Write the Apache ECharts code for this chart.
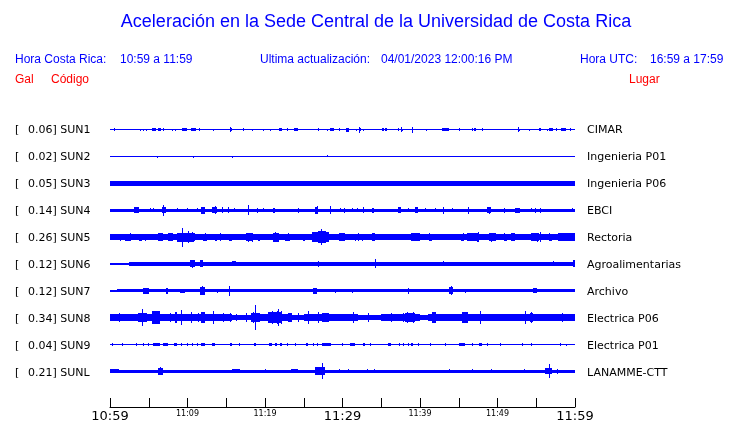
<!DOCTYPE html>
<html>
<head>
<meta charset="utf-8">
<script src="https://cdn.jsdelivr.net/npm/echarts@6/dist/echarts.min.js"></script>
<style>html,body{margin:0;padding:0;background:#fff}#c{width:740px;height:423px}</style>
</head>
<body>
<div id="c"></div>
<script>
// ---- Data ----
const stations = ['SUN1','SUN2','SUN3','SUN4','SUN5','SUN6','SUN7','SUN8','SUN9','SUNL'];
const peakGal = ['0.06','0.02','0.05','0.14','0.26','0.12','0.12','0.34','0.04','0.21'];
const places = ['CIMAR','Ingenieria P01','Ingenieria P06','EBCI','Rectoria','Agroalimentarias','Archivo','Electrica P06','Electrica P01','LANAMME-CTT'];
const tickValues = [0,10,20,30,40,50,60];
const tickLabels = ['10:59','11:09','11:19','11:29','11:39','11:49','11:59'];
const majorTicks = [0,30,60];

// Trace envelopes: [startMin, endMin, upGal, downGal(optional)]
const sun1Base = [[0,60,0]];
const sun1Bursts = [[0.55,0.7,0.03],[3.9,3.95,0.02],[4.3,4.35,0.02],[4.6,4.65,0.02],[5.4,5.9,0.03],[6.2,6.6,0.025],[6.9,7.0,0.03],[8.0,8.05,0.02],[8.4,8.45,0.02],[9.3,9.9,0.03],[10.5,11.1,0.03],[11.5,11.55,0.03],[13.3,13.35,0.015],[15.5,15.55,0.062],[15.6,15.8,0.03],[17.1,17.3,0.03],[18.3,18.35,0.015],[19.8,19.85,0.015],[20.7,20.75,0.015],[21.8,22.2,0.03],[22.9,22.95,0.03],[23.7,24.2,0.03],[26.9,27.0,0.03],[28.0,28.05,0.015],[28.4,28.9,0.03],[29.5,29.55,0.03],[30.5,30.8,0.035],[31.7,31.75,0.02],[32.1,32.15,0.065],[32.2,32.3,0.03],[32.7,32.75,0.02],[35.1,35.3,0.03],[35.5,35.7,0.03],[37.1,37.3,0.03],[37.5,37.55,0.062],[37.7,37.75,0.02],[39.0,39.05,0.065],[40.8,40.85,0.015],[42.8,43.7,0.03],[45.0,45.05,0.025],[46.7,46.75,0.03],[47.0,47.2,0.03],[48.0,48.05,0.03],[52.6,52.65,0.06],[52.8,52.85,0.02],[54.0,54.05,0.02],[55.4,55.6,0.03],[56.4,56.45,0.02],[56.7,57.1,0.03],[57.5,57.55,0.03],[58.2,58.8,0.03],[59.4,59.45,0.03]];
const sun2Base = [[0,60,0]];
const sun2Bursts = [[6.1,6.15,0.0,0.02],[10.75,10.8,0.0,0.02],[15.8,15.85,0.0,0.02],[28.0,28.1,0.035,0.01]];
const sun3Base = [[0,60,0.046]];
const sun3Bursts = [[11.0,11.05,0.04,0.066],[13.3,13.35,0.066,0.04],[26.5,26.55,0.066],[28.2,28.25,0.06,0.04]];
const sun4Base = [[0,2,0.022],[2,58.5,0.033],[58.5,60,0.024]];
const sun4Bursts = [[3.1,3.7,0.067],[5.2,5.25,0.048],[5.6,5.65,0.048],[6.7,7.2,0.07],[6.85,6.95,0.133,0.152],[8.6,8.65,0.048],[9.9,9.95,0.048],[11.2,11.25,0.04],[11.8,12.2,0.085],[13.2,13.8,0.07],[13.5,13.55,0.105],[14.5,14.55,0.067],[15.2,15.25,0.076],[16.0,16.05,0.048],[17.75,17.85,0.124],[19.0,19.05,0.057],[19.8,19.85,0.048],[21.0,21.3,0.057],[24.2,24.4,0.057],[26.5,26.9,0.085],[26.7,26.75,0.1],[28.35,28.45,0.105],[29.7,29.75,0.048],[30.2,30.25,0.057],[31.2,31.25,0.048],[31.9,31.95,0.048],[32.6,32.8,0.067],[33.8,34.0,0.057],[37.2,37.5,0.067],[38.5,38.55,0.048],[39.4,39.7,0.067],[40.6,40.65,0.04],[41.9,41.95,0.04],[43.0,43.05,0.085],[44.1,44.15,0.048],[46.2,46.25,0.085],[48.6,49.2,0.07],[48.9,48.95,0.085],[50.8,51.0,0.057],[52.3,52.9,0.057],[54.3,54.35,0.048],[54.9,54.95,0.057],[55.5,55.55,0.057],[59.6,59.65,0.04]];
const sun5Base = [[0,60,0.067]];
const sun5Bursts = [[1.9,2.6,0.086],[3.7,4.1,0.086],[6.2,6.9,0.095],[7.5,8.0,0.095],[8.6,10.8,0.114],[9.35,9.45,0.25,0.27],[10.1,10.2,0.15],[10.3,11.0,0.1],[12.0,12.5,0.086],[13.5,13.8,0.086],[15.4,15.8,0.086],[17.5,18.5,0.105],[19.1,19.3,0.086],[21.0,21.8,0.114],[22.6,23.2,0.086],[24.9,25.2,0.086],[26.0,28.3,0.12],[26.8,27.9,0.16],[27.2,27.35,0.23,0.2],[29.5,30.3,0.095],[31.6,31.8,0.086],[32.5,32.7,0.086],[33.8,34.2,0.095],[38.9,40.0,0.095],[41.3,41.5,0.086],[45.3,45.6,0.086],[46.0,47.3,0.1],[47.3,47.6,0.114],[48.9,49.8,0.105],[50.8,51.2,0.086],[51.8,52.3,0.095],[54.3,55.3,0.105],[55.5,55.6,0.12],[56.6,57.0,0.086],[57.8,60,0.095],
  [1.3,1.35,0.086],[2.6,2.65,0.095],[4.5,4.55,0.086],[6.5,6.55,0.105],[8.0,8.05,0.105],[10.6,10.65,0.124],[12.3,12.35,0.095],[14.2,14.25,0.095],[17.8,17.85,0.114],[18.3,18.35,0.114],[21.3,21.35,0.124],[23.0,23.05,0.095],[29.5,29.55,0.105],[30.1,30.15,0.095],[32.0,32.05,0.095],[33.8,33.85,0.095],[41.1,41.15,0.105],[45.6,45.65,0.105],[47.5,47.55,0.124],[49.2,49.25,0.114],[50.8,50.85,0.105],[51.8,51.85,0.105],[55.1,55.15,0.114],[56.6,56.65,0.105],[57.8,57.85,0.105],[59.6,59.65,0.105]];
const sun6Base = [[0,2.5,0.022],[2.5,60,0.033]];
const sun6Bursts = [[3.0,3.4,0.048],[7.3,7.35,0.048],[8.4,8.45,0.048],[10.3,11.0,0.086],[10.6,10.65,0.1],[11.6,12.0,0.086],[13.5,14.4,0.048],[15.7,16.3,0.057],[17.8,18.3,0.048],[26.7,27.1,0.045],[26.9,26.95,0.067],[32.0,32.05,0.048],[33.3,33.35,0.048],[34.15,34.2,0.114],[37.2,37.25,0.04],[39.8,39.85,0.04],[43.0,43.05,0.057],[45.0,45.05,0.04],[48.8,48.85,0.048],[50.0,50.05,0.04],[57.2,57.25,0.057],[58.5,58.55,0.04],[59.7,60,0.085]];
const sun7Base = [[0,0.9,0.018],[0.9,17,0.033],[17,60,0.03]];
const sun7Bursts = [[4.3,5.0,0.076],[7.2,7.5,0.076],[9.0,9.7,0.048],[11.6,12.2,0.1],[11.9,11.95,0.12],[13.8,13.85,0.048],[15.4,15.5,0.124],[26.2,26.7,0.076],[29.0,29.05,0.048],[31.2,31.25,0.048],[38.5,38.55,0.076],[43.7,44.3,0.08],[44.0,44.05,0.114],[45.8,45.85,0.048],[54.6,55.1,0.057]];
const sun8Base = [[0,15.7,0.086],[15.7,18.3,0.067],[18.3,23,0.086],[23,25,0.07],[25,32,0.086],[32,35,0.07],[35,40,0.086],[40,41,0.07],[41,48.8,0.086],[48.8,53,0.075],[53,60,0.086]];
const sun8Bursts = [[3.6,4.8,0.12],[4.15,4.25,0.23],[5.4,6.5,0.16],[8.4,8.6,0.133],[9.2,9.25,0.2],[11.8,12.3,0.133],[13.25,13.35,0.16],[15.5,15.55,0.114],[18.2,19.3,0.12],[18.7,18.75,0.35],[20.4,22.2,0.14],[21.7,21.75,0.22],[23.0,23.5,0.114],[24.3,24.35,0.114],[25.5,25.65,0.17],[27.3,28.2,0.124],[31.4,31.45,0.143],[33.3,33.35,0.114],[36.3,36.35,0.114],[38.0,39.4,0.124],[41.5,42.1,0.133],[45.4,46.0,0.152],[47.7,47.75,0.16],[53.5,53.6,0.16],[54.2,54.6,0.124],[57.0,60,0.095],
  [1.1,1.15,0.114],[3.7,3.75,0.095],[7.7,7.75,0.114],[10.5,10.55,0.133],[11.3,11.35,0.114],[14.6,14.65,0.105],[16.3,16.35,0.095],[17.6,17.65,0.114],[18.5,18.55,0.133],[20.9,20.95,0.17],[21.5,21.55,0.17],[22.0,22.05,0.17],[23.4,23.45,0.114],[26.9,26.95,0.133],[27.7,27.75,0.124],[29.5,29.55,0.095],[37.8,37.85,0.124],[38.3,38.35,0.133],[39.1,39.15,0.133],[41.7,41.75,0.143],[45.6,45.65,0.152],[46.0,46.05,0.133],[49.9,49.95,0.095],[51.6,51.65,0.095],[54.3,54.35,0.133],[55.3,55.35,0.095],[57.0,57.05,0.095],[58.3,58.35,0.114],[59.3,59.35,0.095]];
const sun9Base = [[0,60,0]];
const sun9Bursts = [[0.3,0.35,0.025],[1.5,1.6,0.03],[3.3,3.35,0.025],[4.2,4.25,0.025],[4.9,4.95,0.025],[5.6,6.5,0.035],[6.8,7.5,0.035],[8.3,8.6,0.03],[9.2,9.25,0.025],[9.9,9.95,0.025],[10.6,10.65,0.025],[11.2,11.25,0.025],[11.7,12.3,0.03],[13.1,13.6,0.035],[15.5,15.8,0.03],[16.6,16.65,0.025],[18.6,18.9,0.03],[20.5,20.9,0.03],[21.3,21.6,0.03],[21.9,22.2,0.03],[22.9,22.95,0.025],[23.9,23.95,0.025],[25.3,25.6,0.03],[26.2,26.25,0.025],[26.7,26.75,0.025],[27.4,28.5,0.035],[29.9,29.95,0.025],[31.0,31.6,0.03],[32.7,32.9,0.03],[33.5,33.55,0.025],[35.9,36.2,0.03],[37.3,37.35,0.025],[37.8,37.85,0.025],[38.5,38.55,0.025],[38.9,39.1,0.03],[39.7,39.75,0.025],[41.3,41.35,0.025],[43.2,43.25,0.025],[45.0,45.8,0.035],[46.7,46.75,0.025],[47.6,48.0,0.03],[48.6,48.65,0.025],[50.3,50.35,0.025],[53.2,53.25,0.025],[54.3,54.35,0.025],[58.1,58.15,0.025],[58.9,58.95,0.0,0.04]];
const sunLBase = [[0,1.1,0.038],[1.1,60,0.029]];
const sunLBursts = [[6.2,6.8,0.086],[6.4,6.5,0.1],[15.7,16.8,0.038],[20.0,20.05,0.048],[23.4,24.3,0.038],[26.5,27.7,0.095],[27.4,27.45,0.21],[29.5,29.55,0.048],[30.75,30.8,0.038],[33.1,33.15,0.038],[34.0,34.05,0.048],[43.7,43.75,0.048],[46.7,46.75,0.048],[49.2,49.25,0.048],[53.4,53.45,0.048],[56.1,57.0,0.076],[56.7,56.75,0.19],[57.7,57.75,0.057]];

const traceBase = [sun1Base,sun2Base,sun3Base,sun4Base,sun5Base,sun6Base,sun7Base,sun8Base,sun9Base,sunLBase];
const traceBursts = [sun1Bursts,sun2Bursts,sun3Bursts,sun4Bursts,sun5Bursts,sun6Bursts,sun7Bursts,sun8Bursts,sun9Bursts,sunLBursts];

// ---- Build ----
const ROW = 0.77; // Gal per trace row
const BLUE = '#0000ff';
const items = [];
for (let i = 0; i < stations.length; i++) {
  traceBase[i].concat(traceBursts[i]).forEach(function (s) {
    items.push([s[0], s[1], s[2], s.length > 3 ? s[3] : s[2], i]);
  });
}

const chart = echarts.init(document.getElementById('c'), null, {renderer: 'canvas'});

const graphics = [];
function txt(x, y, text, color, size, family, align) {
  graphics.push({type: 'text', x: x, y: y, style: {text: text, fill: color, font: size + 'px ' + family, textAlign: align || 'left', textVerticalAlign: 'middle'}, silent: true});
}
const SANS = '"Liberation Sans", Arial, sans-serif';
const DJ = '"DejaVu Sans", sans-serif';
txt(376, 22, 'Aceleración en la Sede Central de la Universidad de Costa Rica', BLUE, 18, SANS, 'center');
txt(15, 60, 'Hora Costa Rica:', BLUE, 12, SANS);
txt(120, 60, '10:59 a 11:59', BLUE, 12, SANS);
txt(260, 60, 'Ultima actualización:', BLUE, 12, SANS);
txt(381, 60, '04/01/2023 12:00:16 PM', BLUE, 12, SANS);
txt(580, 60, 'Hora UTC:', BLUE, 12, SANS);
txt(650, 60, '16:59 a 17:59', BLUE, 12, SANS);
txt(15, 80, 'Gal', '#ff0000', 12, SANS);
txt(51, 80, 'Código', '#ff0000', 12, SANS);
txt(629, 80, 'Lugar', '#ff0000', 12, SANS);
for (let i = 0; i < stations.length; i++) {
  const y = 130 + i * 27;
  txt(15, y, '[', '#000', 11, DJ);
  txt(28, y, peakGal[i] + '] ' + stations[i], '#000', 11, DJ);
  txt(587, y, places[i], '#000', 11, DJ);
}

chart.setOption({
  animation: false,
  grid: {left: 110, right: 165, top: 103, height: 297},
  xAxis: {
    type: 'value', min: 0, max: 60, interval: 5, offset: 9,
    axisLine: {show: true, onZero: false, lineStyle: {color: '#000', width: 1}},
    axisTick: {show: true, inside: true, length: 9, lineStyle: {color: '#000'}},
    splitLine: {show: false},
    axisLabel: {
      margin: 3,
      formatter: function (v) {
        const k = tickValues.indexOf(v);
        if (k < 0) return '';
        return (majorTicks.indexOf(v) >= 0 ? '{big|' : '{small|') + tickLabels[k] + '}';
      },
      rich: {
        big: {fontSize: 13, fontFamily: 'DejaVu Sans', color: '#000'},
        small: {fontSize: 8, fontFamily: 'DejaVu Sans', color: '#000', padding: [0,0,3,0]}
      }
    }
  },
  yAxis: {type: 'value', min: -10 * ROW, max: ROW, show: false},
  series: [{
    type: 'custom',
    clip: false,
    encode: {x: [0, 1], y: 2},
    data: items,
    renderItem: function (params, api) {
      const i = api.value(4);
      const c = -i * ROW;
      const p0 = api.coord([api.value(0), c + api.value(2)]);
      const p1 = api.coord([api.value(1), c - api.value(3)]);
      const x0 = Math.round(p0[0]);
      const x1 = Math.max(x0 + 1, Math.round(p1[0]));
      const y0 = Math.floor(p0[1] + 0.001);
      const y1 = Math.max(y0 + 1, Math.ceil(p1[1] - 0.001));
      return {type: 'rect', shape: {x: x0, y: y0, width: x1 - x0, height: y1 - y0}, style: {fill: BLUE}};
    }
  }],
  graphic: graphics
});
</script>
</body>
</html>
